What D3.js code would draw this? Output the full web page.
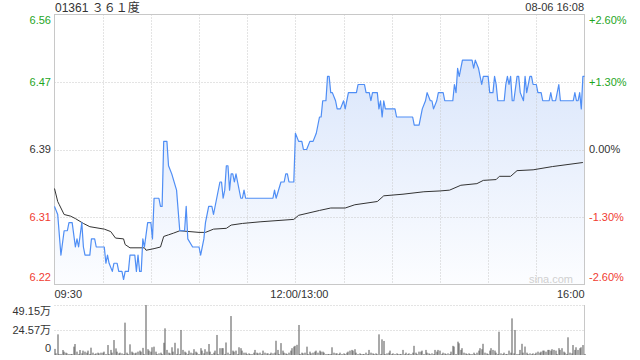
<!DOCTYPE html>
<html>
<head>
<meta charset="utf-8">
<script src="https://cdn.jsdelivr.net/npm/d3@7"></script>
<style>
  body { margin: 0; background: #fff; }
  svg text { font-family: "Liberation Sans", Arial, "Noto Sans CJK SC", sans-serif; }
</style>
</head>
<body>
<div id="chart"></div>
<script>
var title = "01361 ３６１度";
var stamp = "08-06 16:08";
var prevClose = 6.39;

var priceTickLabels = ["6.56", "6.47", "6.39", "6.31", "6.22"];
var pctTicks = [2.6, 1.3, 0, -1.3, -2.6];
var pctTickLabels = ["+2.60%", "+1.30%", "0.00%", "-1.30%", "-2.60%"];
var timeLabels = ["09:30", "12:00/13:00", "16:00"];
var volTickLabels = ["49.15万", "24.57万", "0"];
var volTicks = [49.15, 24.57, 0];

// minute price
var priceTimes = ["09:30","09:32","09:34","09:36","09:38","09:39","09:41","09:43","09:44","09:45",
  "09:47","09:48","09:49","09:52","09:53","09:55","09:56","10:01","10:02","10:03",
  "10:04","10:06","10:07","10:09","10:10","10:12","10:13","10:14","10:16","10:17",
  "10:20","10:21","10:22","10:23","10:24","10:25","10:26","10:28","10:30","10:31",
  "10:32","10:35","10:36","10:37","10:38","10:40","10:41","10:43","10:46","10:48",
  "10:51","10:52","10:53","10:56","11:00","11:01","11:03","11:04","11:06","11:08",
  "11:09","11:11","11:13","11:14","11:15","11:16","11:17","11:18","11:19","11:20",
  "11:21","11:22","11:23","11:24","11:26","11:27","11:28","11:29","11:46","11:47",
  "11:48","11:51","11:53","11:54","11:55","11:56","11:59",
  "13:00","13:02","13:04","13:05","13:07","13:09","13:11","13:13","13:15","13:16",
  "13:17","13:19","13:20","13:21","13:22","13:23","13:25","13:26","13:28","13:30",
  "13:31","13:33","13:38","13:39","13:43","13:44","13:46","13:47","13:48","13:51",
  "13:52","13:53","13:54","13:55","13:56","14:02","14:03","14:13","14:14","14:17",
  "14:19","14:21","14:22","14:24","14:25","14:26","14:28","14:29","14:32","14:33",
  "14:38","14:39","14:40","14:41","14:42","14:44","14:50","14:51","14:52","14:54",
  "14:55","14:56","14:57","15:00","15:01","15:03","15:04","15:05","15:06","15:10",
  "15:11","15:12","15:13","15:14","15:15","15:16","15:18","15:19","15:20","15:22",
  "15:23","15:24","15:26","15:27","15:28","15:30","15:31","15:33","15:34","15:38",
  "15:39","15:40","15:42","15:44","15:45","15:53","15:54","15:55","15:56","15:57",
  "15:58","15:59","16:00"];
var prices = [6.32,6.31,6.26,6.29,6.29,6.30,6.30,6.27,6.28,6.27,
  6.30,6.27,6.26,6.26,6.28,6.28,6.27,6.27,6.25,6.26,
  6.25,6.24,6.25,6.25,6.24,6.24,6.23,6.24,6.24,6.26,
  6.26,6.24,6.26,6.24,6.24,6.28,6.27,6.30,6.30,6.28,
  6.33,6.33,6.32,6.32,6.40,6.40,6.37,6.36,6.34,6.29,
  6.29,6.32,6.28,6.27,6.27,6.26,6.28,6.30,6.32,6.32,
  6.31,6.33,6.35,6.35,6.33,6.34,6.37,6.37,6.34,6.36,
  6.36,6.35,6.36,6.35,6.33,6.33,6.34,6.33,6.33,6.34,
  6.33,6.35,6.35,6.36,6.36,6.35,6.35,
  6.41,6.40,6.40,6.39,6.39,6.40,6.40,6.41,6.43,6.43,
  6.45,6.45,6.48,6.48,6.46,6.46,6.45,6.44,6.44,6.45,
  6.44,6.46,6.46,6.47,6.47,6.46,6.46,6.45,6.46,6.46,
  6.44,6.45,6.43,6.45,6.44,6.44,6.43,6.43,6.42,6.42,
  6.44,6.45,6.46,6.45,6.45,6.44,6.45,6.46,6.46,6.45,
  6.45,6.47,6.46,6.49,6.48,6.50,6.50,6.49,6.50,6.49,
  6.48,6.47,6.48,6.48,6.46,6.46,6.48,6.47,6.45,6.45,
  6.47,6.48,6.47,6.48,6.45,6.45,6.48,6.48,6.46,6.45,
  6.48,6.46,6.48,6.48,6.47,6.47,6.46,6.46,6.45,6.45,
  6.46,6.45,6.45,6.47,6.45,6.45,6.46,6.45,6.45,6.46,
  6.44,6.48,6.48];

// average price line
var avgTimes = ["09:30","09:32","09:33","09:36","09:40","09:43","09:48","09:52","10:01","10:05",
  "10:08","10:13","10:14","10:17","10:26","10:27","10:32","10:36","10:38","10:41",
  "10:44","10:48","11:00","11:04","11:09","11:17","11:20","11:27","11:38","11:59",
  "13:02","13:15","13:22","13:31","13:37","13:51","13:55","14:07","14:20","14:30",
  "14:36","14:43","14:53","14:57","15:05","15:07","15:14","15:18","15:28","15:40","15:59"];
var avgPrices = [6.342,6.326,6.322,6.310,6.308,6.305,6.299,6.295,6.292,6.289,
  6.281,6.280,6.273,6.269,6.269,6.266,6.268,6.270,6.283,6.285,
  6.287,6.290,6.288,6.288,6.292,6.293,6.297,6.299,6.301,6.304,
  6.309,6.315,6.318,6.318,6.322,6.326,6.333,6.335,6.338,6.339,
  6.340,6.346,6.348,6.352,6.353,6.357,6.357,6.364,6.365,6.369,6.374];

// volume per minute slot (万), slot 0 = 09:30, slot 150 = 13:00
var volumes = [
  6,1.6,20.3,1,1,4.9,3.3,2.3,1.6,1,
  1,1,8.2,10.8,3.3,1,4.9,1.6,4.3,3.3,
  2.3,4.3,1,7.2,2.3,1,1.6,2.3,1.6,2.3,
  2.3,3.3,1,9.8,1,5,2.3,14.7,6.5,3.3,
  1.6,2.3,1.6,1,31.8,2.3,1,10.5,3.3,2.3,
  1.6,2.3,3.3,4.3,3.3,7,1,49.15,5.7,4.3,
  3.3,7.6,8.2,3.3,1,1.6,2.3,1,12,26.2,
  5,2.3,1.6,7.6,3.3,12,1,6.5,1,24.6,
  5,3.3,2.3,1,4.3,2.3,1.6,5.7,3.3,2.3,
  1,6.7,4.3,1.6,5.7,3.3,10.8,3.3,1,2.3,
  4.3,19.7,1,6.7,6.7,6.7,1,12.3,2.3,1,
  38.3,4.3,3.3,4.3,1,7.6,6.7,4.3,2.3,2.3,
  1,1.6,1,1,2.3,5,2.3,1.6,2.3,1,
  4.3,2.3,1.6,1.6,1,2.3,1.6,2.3,14,5,
  1,11.7,4.3,2.3,1.6,1,2.3,4.3,6.7,8.2,
  9,10,29.5,1,2.3,1.6,2.3,8.2,1,3.3,
  1.6,2.3,3.3,4.3,2.3,4.3,3.3,3.3,2.3,1,
  1,1,1,7.6,2.3,1.6,1.6,1,2.3,1,
  1.6,1,2.3,3.3,4.3,5,4.3,5.7,2.3,1,
  1.6,1,1,1,2.3,1,5,2.3,1.6,1,
  1.6,1,20.3,1,15.4,13.8,1,1.6,2.3,4.3,
  1,1.6,1,1.6,1,1,1,5,1,2.3,
  1,1.6,1,2.3,9,2.3,1,3.3,3.3,4.3,
  1,5,2.3,1.6,1,1.6,1,5,3.3,5,
  4.3,1,2.3,1.6,1,1.6,1,3.3,9,8.3,
  1,13.1,11.5,5,6.7,2.3,1.6,1,1.6,1,
  1,2.3,1,2.3,4.3,6.7,5.7,11,2.3,1.6,
  1,4.3,6.7,5,4.3,2.3,1,22.9,1.6,1,
  2.3,1,1,4.3,2.3,36,1.6,24.6,1,1,
  5,11,2.3,8.3,2.3,1,1.6,1,1.6,1,
  2.3,3.3,2.3,3.3,4.3,4.3,3.3,5,5,4.3,
  5.7,5,4.3,1,6.7,5,6.7,3.3,2.3,1,
  17.4,2.3,1.6,9.8,5,7.6,5,6.7,7.6,9.8,1];

function slot(t) {
  var p = t.split(":"), m = +p[0] * 60 + +p[1];
  return m <= 720 ? m - 570 : m - 630;
}

var width = 640, height = 360;
var plotL = 54.5, plotR = 584.5, plotT = 14.5, plotB = 284.5;
var volTop = 305, volBottom = 355;
var green = "#1ea51e", red = "#f03c32", dark = "#333";

var svg = d3.select("#chart").append("svg")
  .attr("width", width).attr("height", height);

var x = d3.scaleLinear().domain([0, 330]).range([plotL, plotR]);
var y = d3.scaleLinear()
  .domain([prevClose * (1 - 0.026), prevClose * (1 + 0.026)])
  .range([plotB, plotT]);
var yv = d3.scaleLinear().domain([0, 49.15]).range([volBottom, volTop]);

var defs = svg.append("defs");
var grad = defs.append("linearGradient").attr("id", "fillGrad")
  .attr("gradientUnits", "userSpaceOnUse")
  .attr("x1", 0).attr("y1", plotT).attr("x2", 0).attr("y2", plotB);
grad.append("stop").attr("offset", "0%").attr("stop-color", "#d3e1fa");
grad.append("stop").attr("offset", "100%").attr("stop-color", "#fcfdff");

var priceData = priceTimes.map(function(t, i) { return { s: slot(t), v: prices[i] }; });
var avgData = avgTimes.map(function(t, i) { return { s: slot(t), v: avgPrices[i] }; });

/* area under the price */
svg.append("path")
  .datum(priceData)
  .attr("fill", "url(#fillGrad)")
  .attr("d", d3.area().x(function(d) { return x(d.s); }).y0(plotB).y1(function(d) { return y(d.v); }));

/* grid */
var grid = svg.append("g").attr("stroke", "#c8c8c8").attr("stroke-dasharray", "1,2");
grid.selectAll("line.v").data(d3.range(30, 330, 30)).enter().append("line")
  .attr("x1", function(d) { return Math.round(x(d)) + 0.5; })
  .attr("x2", function(d) { return Math.round(x(d)) + 0.5; })
  .attr("y1", plotT).attr("y2", plotB);
grid.selectAll("line.h").data(pctTicks.slice(1, 4)).enter().append("line")
  .attr("x1", plotL).attr("x2", plotR)
  .attr("y1", function(d) { return Math.round(y(prevClose * (1 + d / 100))) + 0.5; })
  .attr("y2", function(d) { return Math.round(y(prevClose * (1 + d / 100))) + 0.5; });

svg.append("rect")
  .attr("x", plotL).attr("y", plotT).attr("width", plotR - plotL).attr("height", plotB - plotT)
  .attr("fill", "none").attr("stroke", "#c8c8c8");

/* average and price lines */
svg.append("path")
  .datum(avgData)
  .attr("fill", "none").attr("stroke", "#333").attr("stroke-width", 1)
  .attr("d", d3.line().x(function(d) { return x(d.s); }).y(function(d) { return y(d.v); }));

svg.append("path")
  .datum(priceData)
  .attr("fill", "none").attr("stroke", "#4f8ef5").attr("stroke-width", 1.2)
  .attr("stroke-linejoin", "round")
  .attr("d", d3.line().x(function(d) { return x(d.s); }).y(function(d) { return y(d.v); }));

/* axis labels */
function tickColor(d) { return d > 0 ? green : (d < 0 ? red : dark); }
function labelY(d, i) {
  var yy = y(prevClose * (1 + d / 100));
  if (i === 0) return yy + 6;
  if (i === pctTicks.length - 1) return yy - 7;
  return yy;
}
svg.append("g").selectAll("text").data(pctTicks).enter().append("text")
  .attr("x", 51).attr("y", labelY).attr("dy", "0.35em")
  .attr("text-anchor", "end").attr("font-size", 11)
  .attr("fill", tickColor)
  .text(function(d, i) { return priceTickLabels[i]; });
svg.append("g").selectAll("text").data(pctTicks).enter().append("text")
  .attr("x", 589).attr("y", labelY).attr("dy", "0.35em")
  .attr("font-size", 11)
  .attr("fill", tickColor)
  .text(function(d, i) { return pctTickLabels[i]; });

svg.append("text").attr("x", 55).attr("y", 12).attr("font-size", 12).attr("fill", dark).text(title);
svg.append("text").attr("x", 584).attr("y", 11).attr("font-size", 11).attr("fill", dark)
  .attr("text-anchor", "end").text(stamp);

svg.append("text").attr("x", 573).attr("y", 283).attr("font-size", 11).attr("fill", "#d0d0d0")
  .attr("text-anchor", "end").text("sina.com");

var timeSlots = [0, 150, 330], timeAnchor = ["start", "middle", "end"];
svg.append("g").selectAll("text").data(timeLabels).enter().append("text")
  .attr("x", function(d, i) { return x(timeSlots[i]) + (i === 1 ? 4 : 0); })
  .attr("y", 298).attr("font-size", 11).attr("fill", dark)
  .attr("text-anchor", function(d, i) { return timeAnchor[i]; })
  .text(function(d) { return d; });

/* volume */
var vol = svg.append("g");
vol.selectAll("line.g").data(volTicks.slice(0, 2)).enter().append("line")
  .attr("x1", plotL).attr("x2", plotR)
  .attr("y1", function(d) { return Math.round(yv(d)) + 0.5; })
  .attr("y2", function(d) { return Math.round(yv(d)) + 0.5; })
  .attr("stroke", "#c8c8c8").attr("stroke-dasharray", "1,2");
vol.append("line").attr("x1", plotR).attr("x2", plotR).attr("y1", volTop).attr("y2", volBottom)
  .attr("stroke", "#c8c8c8");

vol.selectAll("rect").data(volumes).enter().append("rect")
  .attr("x", function(d, i) { return Math.round(x(i)) - 0.5; })
  .attr("width", 1)
  .attr("y", function(d) { return yv(d); })
  .attr("height", function(d) { return volBottom - yv(d); })
  .attr("fill", "#555");

var volLabelY = [311.5, 330, 348.5];
vol.selectAll("text").data(volTickLabels).enter().append("text")
  .attr("x", 51).attr("y", function(d, i) { return volLabelY[i]; }).attr("dy", "0.35em")
  .attr("text-anchor", "end").attr("font-size", 11).attr("fill", dark)
  .text(function(d) { return d; });
</script>
</body>
</html>
